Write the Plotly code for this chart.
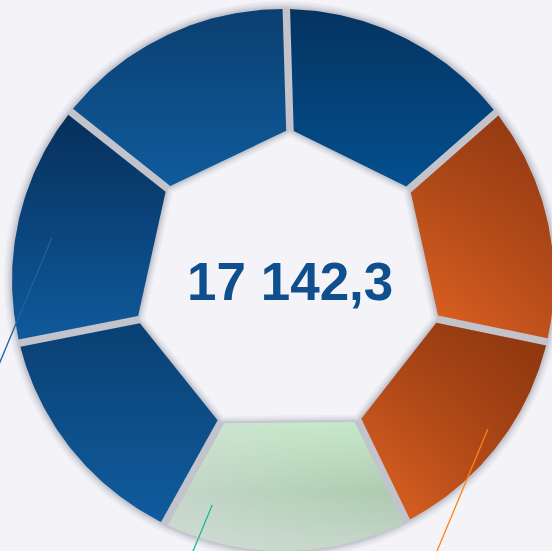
import numpy as np
import plotly.graph_objects as go

# ---------------- data ----------------
segment_names = ["Сегмент 1", "Сегмент 2", "Сегмент 3", "Сегмент 4",
                 "Сегмент 5", "Сегмент 6", "Сегмент 7"]
segment_values = [2435.6, 2445.2, 2364.2, 2528.5, 2409.4, 2468.9, 2490.5]

# ---------------- style ----------------
color_top = ["#053360", "#9c3f14", "#a34314", "#c6e7c9", "#0a4073", "#062f5b", "#0b3f71"]
color_mid = [None, None, None, "#adcab1", None, None, None]
color_bottom = ["#03508f", "#e56524", "#e46524", "#c8d5cb", "#105c9e", "#0f5a9c", "#0f5b9c"]
# horizontal overlay (left -> right) to give a diagonal feel
overlay_left = [None, "rgba(120,42,10,0)", "rgba(120,42,10,0)", "rgba(218,224,220,0.55)",
                None, None, None]
overlay_right = [None, "rgba(120,42,10,0.35)", "rgba(120,42,10,0.55)", "rgba(200,235,205,0)",
                 None, None, None]
BG = "#f3f3f8"
GAP_COLOR = "#c3c3cb"
TEXT_COLOR = "#0f4f8d"

OUTER_C = (283.0, 280.0)
OUTER_R = 271.0
INNER_C = (288.0, 284.0)
INNER_R = 155.0
ROT = 0.7          # degrees, clockwise from top
GAP = 7.5

# leader lines (decorative, anchored to segments)
leader_seg = [5, 3, 2]
leader_pos = [0.46, 0.84, 0.46]
leader_rad = [0.867, 0.87, 0.935]
leader_col = ["#1d64a3", "#1fb89e", "#ff8412"]
LEADER_DIR = np.array([-0.385, 0.923])


def pt(c, rad, th_deg):
    th = np.radians(th_deg)
    return np.array([c[0] + rad * np.sin(th), c[1] - rad * np.cos(th)])


def ang(c, p):
    return np.degrees(np.arctan2(p[0] - c[0], -(p[1] - c[1])))


def line_line(p0, d, a, b):
    m = np.array([[d[0], -(b - a)[0]], [d[1], -(b - a)[1]]])
    t, u = np.linalg.solve(m, a - p0)
    return p0 + t * d


def line_circle(p0, d, c, r):
    w = p0 - np.array(c)
    b = d @ w
    cc = w @ w - r * r
    t = -b + np.sqrt(b * b - cc)
    return p0 + t * d


vals = np.array(segment_values, dtype=float)
cum = np.concatenate([[0], np.cumsum(vals)]) / vals.sum()
theta = ROT + 360.0 * cum
inner_v = [pt(INNER_C, INNER_R, t) for t in theta]
outer_v = [pt(OUTER_C, OUTER_R, t) for t in theta]

fig = go.Figure()


def ring_path(k):
    xs, ys = [], []
    a = np.linspace(theta[0], theta[0] + 360, 361)
    for t in a:
        p = pt(OUTER_C, OUTER_R + k, t)
        xs.append(p[0]); ys.append(p[1])
    for t in theta[::-1]:
        p = pt(INNER_C, INNER_R - k, t)
        xs.append(p[0]); ys.append(p[1])
    xs.append(xs[0]); ys.append(ys[0])
    return xs, ys


# soft shadow + gap base
for k, col in [(8, "rgba(90,90,115,0.05)"), (6, "rgba(90,90,115,0.06)"),
               (4, "rgba(90,90,115,0.08)"), (2.5, "rgba(90,90,115,0.10)"),
               (1.2, GAP_COLOR)]:
    xs, ys = ring_path(k)
    fig.add_trace(go.Scatter(x=xs, y=ys, mode="lines", fill="toself",
                             fillcolor=col, line=dict(width=0),
                             hoverinfo="skip", showlegend=False))

# segments
for i in range(len(vals)):
    segs = []
    for k, s in [(i, 1), (i + 1, -1)]:
        d = outer_v[k] - inner_v[k]
        d = d / np.linalg.norm(d)
        n = np.array([-d[1], d[0]])
        th = np.radians(theta[k])
        if n @ np.array([np.cos(th), np.sin(th)]) < 0:
            n = -n
        p0 = inner_v[k] + s * n * GAP / 2
        pin = line_line(p0, d, inner_v[i], inner_v[i + 1])
        pout = line_circle(p0, d, OUTER_C, OUTER_R)
        segs.append((pin, pout))
    (in_s, out_s), (in_e, out_e) = segs
    a0 = ang(OUTER_C, out_s)
    a1 = ang(OUTER_C, out_e)
    while a1 < a0:
        a1 += 360
    arc = [pt(OUTER_C, OUTER_R, t) for t in np.linspace(a0, a1, 80)]
    poly = [in_s] + arc + [in_e, in_s]
    xs = [p[0] for p in poly]
    ys = [p[1] for p in poly]
    if color_mid[i]:
        cs = [[0, color_top[i]], [0.55, color_mid[i]], [1, color_bottom[i]]]
    else:
        cs = [[0, color_top[i]], [1, color_bottom[i]]]
    fig.add_trace(go.Scatter(
        x=xs, y=ys, mode="lines", fill="toself",
        fillgradient=dict(type="vertical", colorscale=cs,
                          start=min(ys), stop=max(ys)),
        line=dict(width=0), name=segment_names[i],
        text=f"{segment_names[i]}: {segment_values[i]}", hoverinfo="text",
        showlegend=False))
    if overlay_left[i]:
        fig.add_trace(go.Scatter(
            x=xs, y=ys, mode="lines", fill="toself",
            fillgradient=dict(type="horizontal",
                              colorscale=[[0, overlay_left[i]], [1, overlay_right[i]]],
                              start=min(xs), stop=max(xs)),
            line=dict(width=0), hoverinfo="skip", showlegend=False))

# leader lines
for sidx, pos, rr, col in zip(leader_seg, leader_pos, leader_rad, leader_col):
    t = theta[sidx] + pos * (theta[sidx + 1] - theta[sidx])
    p0 = pt(OUTER_C, OUTER_R * rr, t)
    p1 = p0 + LEADER_DIR * 220
    fig.add_trace(go.Scatter(x=[p0[0], p1[0]], y=[p0[1], p1[1]], mode="lines",
                             line=dict(color=col, width=1.3),
                             hoverinfo="skip", showlegend=False))

total = vals.sum()
total_txt = f"{total:,.1f}".replace(",", " ").replace(".", ",")
fig.add_annotation(x=INNER_C[0] + 2, y=281, text=f"<b>{total_txt}</b>",
                   showarrow=False, xanchor="center", yanchor="middle",
                   font=dict(family="Liberation Sans, Arial, sans-serif",
                             size=53, color=TEXT_COLOR))

fig.update_layout(
    width=552, height=551,
    margin=dict(l=0, r=0, t=0, b=0),
    paper_bgcolor=BG, plot_bgcolor=BG,
    xaxis=dict(range=[0, 552], visible=False, fixedrange=True),
    yaxis=dict(range=[551, 0], visible=False, fixedrange=True),
    showlegend=False,
)
fig.write_html("out.html", config={"displayModeBar": False},
               post_script="document.body.style.margin='0';"
                           "document.body.style.overflow='hidden';"
                           f"document.body.style.background='{BG}';")
